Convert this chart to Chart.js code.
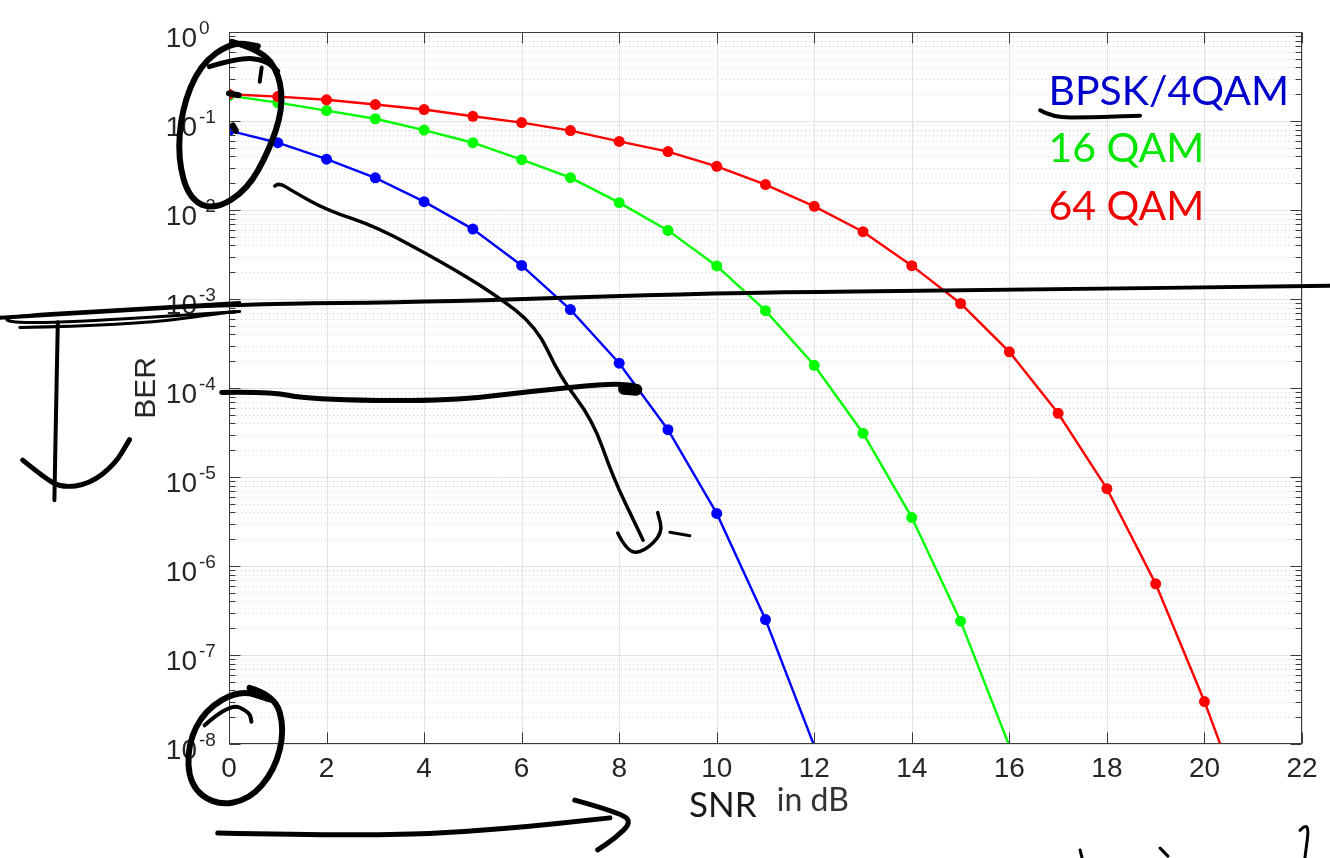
<!DOCTYPE html>
<html>
<head>
<meta charset="utf-8">
<script src="https://cdn.jsdelivr.net/npm/chart.js@4"></script>
<style>
  body { margin: 0; background: #fff; }
  #wrap { width: 1330px; height: 858px; }
</style>
</head>
<body>
<div id="wrap"><canvas id="berChart" width="1330" height="858"></canvas></div>
<script>
// SNR in dB for each marker
const snrDb = [0, 1, 2, 3, 4, 5, 6, 7, 8, 9, 10, 11, 12, 13, 14, 15, 16, 17, 18, 19, 20, 21];

// BER (last value of each curve sits just below 1e-8)
const berBpsk = [0.078, 0.057, 0.0372, 0.0230, 0.0124, 0.0061, 0.00238, 7.6e-4, 1.9e-4, 3.4e-5, 3.9e-6, 2.5e-7, 9.5e-9];
const ber16Qam = [0.193, 0.161, 0.131, 0.106, 0.079, 0.057, 0.0368, 0.0231, 0.0121, 0.0059, 0.00235, 7.4e-4, 1.8e-4, 3.1e-5, 3.5e-6, 2.4e-7, 9.5e-9];
const ber64Qam = [0.200, 0.188, 0.173, 0.153, 0.1345, 0.113, 0.096, 0.078, 0.059, 0.0453, 0.031, 0.0193, 0.011, 0.0057, 0.00237, 8.9e-4, 2.55e-4, 5.2e-5, 7.4e-6, 6.3e-7, 3.0e-8, 1.0e-9];

// axis ticks
const xTicks = [0, 2, 4, 6, 8, 10, 12, 14, 16, 18, 20, 22];
const yDecades = [0, -1, -2, -3, -4, -5, -6, -7, -8];

// text labels
const seriesNames = ['BPSK/4QAM', '16 QAM', '64 QAM'];
const yTitle = 'BER';
const xTitle = 'SNR';
const xUnit = 'in dB';

const Y_MIN = 1e-8, Y_MAX = 1;
const AXIS_FONT = '"Liberation Sans", Arial, sans-serif';
const NOTE_FONT = 'Lato, "Open Sans", sans-serif';

// hand-drawn ink on top of the figure, in [SNR dB, log10(BER)] units
const inkStrokes = [
  { w: 4, pts: [[-4.7, -3.21], [-2.65, -3.14], [0.01, -3.06], [4.53, -3.03], [9.86, -2.93], [15.8, -2.90], [22.57, -2.85]] },
  { w: 3, pts: [[0.22, -3.04], [-2.24, -3.12], [-4.5, -3.19], [-4.6, -3.26], [-3.47, -3.27], [0.22, -3.14]] },
  { w: 3, pts: [[-4.29, -3.32], [-2.03, -3.30], [0.12, -3.14]] },
  { w: 4, pts: [[-3.51, -3.26], [-3.55, -4.36], [-3.58, -5.26]] },
  { w: 5, pts: [[-4.23, -4.81], [-3.78, -5.01], [-3.43, -5.12], [-2.86, -5.08], [-2.34, -4.86], [-2.04, -4.58]] },
  { w: 5, pts: [[-0.15, -4.05], [0.83, -4.04], [1.65, -4.13], [4.42, -4.15], [6.17, -4.04], [7.81, -3.95], [8.26, -3.97]] },
  { w: 12, pts: [[8.1, -4.01], [8.35, -4.02]] },
  { w: 3.5, pts: [[0.94, -1.73], [1.02, -1.69], [1.31, -1.79], [2.0, -2.0], [3.03, -2.19], [4.38, -2.59], [5.41, -2.93], [6.31, -3.31], [6.78, -3.87], [7.46, -4.36], [7.87, -5.0], [8.36, -5.56], [8.49, -5.71]] },
  { w: 3.5, pts: [[7.97, -5.63], [8.16, -5.84], [8.49, -5.85], [8.9, -5.63], [8.79, -5.40]] },
  { w: 3, pts: [[9.04, -5.62], [9.45, -5.66]] },
  { w: 6, pts: [[0.06, -0.11], [0.67, -0.2], [1.04, -0.48], [1.10, -0.87], [0.83, -1.32], [0.38, -1.77], [-0.29, -2.0], [-0.81, -1.88], [-1.05, -1.43], [-0.97, -0.87], [-0.6, -0.37], [0.06, -0.11], [0.59, -0.16]] },
  { w: 5, pts: [[-0.4, -0.39], [0.22, -0.29], [0.73, -0.31], [1.0, -0.44]] },
  { w: 4, pts: [[0.67, -0.40], [0.63, -0.56]] },
  { w: 6, pts: [[0.0, -0.69], [0.2, -0.71]] },
  { w: 6, pts: [[0.08, -1.05], [0.14, -1.11]] },
  { w: 6, pts: [[0.42, -7.37], [0.94, -7.45], [1.14, -7.84], [0.94, -8.29], [0.42, -8.63], [-0.29, -8.69], [-0.81, -8.46], [-0.85, -8.01], [-0.5, -7.62], [0.22, -7.39], [0.83, -7.5]] },
  { w: 4, pts: [[-0.5, -7.79], [0.01, -7.54], [0.42, -7.64], [0.46, -7.75]] },
  { w: 5, pts: [[-0.23, -9.0], [3.01, -9.04], [5.55, -8.96], [7.81, -8.83]] },
  { w: 5, pts: [[7.09, -8.63], [8.01, -8.77], [8.26, -8.88], [7.91, -9.06], [7.56, -9.19]] },
  { w: 4, pts: [[16.63, -0.88], [16.87, -0.96], [17.65, -0.96], [18.68, -0.94]] },
  { w: 3, pts: [[17.45, -9.19], [17.49, -9.28]] },
  { w: 3, pts: [[19.09, -9.17], [19.25, -9.26]] },
  { w: 3, pts: [[21.96, -8.97], [22.16, -8.85], [22.06, -9.28]] }
];

function toPoints(values) {
  return values.map((v, i) => ({ x: snrDb[i], y: v }));
}

function makeSeries(label, values, color, order) {
  return {
    label: label,
    data: toPoints(values),
    borderColor: color,
    backgroundColor: color,
    borderWidth: 2.4,
    pointRadius: values.map(v => (v < Y_MIN ? 0 : 5.5)),
    pointBorderWidth: 0,
    pointHoverRadius: 0,
    tension: 0,
    order: order
  };
}

// light grid, inward ticks, box, y tick labels with exponents
const matlabAxes = {
  id: 'matlabAxes',
  beforeDatasetsDraw(chart) {
    const { ctx, chartArea: a, scales: { x, y } } = chart;
    ctx.save();
    ctx.lineWidth = 1;
    // minor horizontal grid (dotted)
    ctx.strokeStyle = '#cfcfcf';
    ctx.setLineDash([1, 3]);
    yDecades.forEach(e => {
      if (e === 0) return;
      for (let k = 2; k <= 9; k++) {
        const py = Math.round(y.getPixelForValue(k * Math.pow(10, e))) + 0.5;
        ctx.beginPath(); ctx.moveTo(a.left, py); ctx.lineTo(a.right, py); ctx.stroke();
      }
    });
    ctx.setLineDash([]);
    // major grid
    ctx.strokeStyle = '#e2e2e2';
    yDecades.forEach(e => {
      const py = Math.round(y.getPixelForValue(Math.pow(10, e))) + 0.5;
      ctx.beginPath(); ctx.moveTo(a.left, py); ctx.lineTo(a.right, py); ctx.stroke();
    });
    xTicks.forEach(t => {
      const px = Math.round(x.getPixelForValue(t)) + 0.5;
      ctx.beginPath(); ctx.moveTo(px, a.top); ctx.lineTo(px, a.bottom); ctx.stroke();
    });
    ctx.restore();
  },
  afterDatasetsDraw(chart) {
    const { ctx, chartArea: a, scales: { x, y } } = chart;
    ctx.save();
    ctx.strokeStyle = '#3a3a3a';
    ctx.lineWidth = 1;
    const L = Math.round(a.left) + 0.5, R = Math.round(a.right) - 0.5;
    const T = Math.round(a.top) + 0.5, B = Math.round(a.bottom) - 0.5;
    ctx.strokeRect(L, T, R - L, B - T);
    ctx.beginPath();
    xTicks.forEach(t => {
      const px = Math.round(x.getPixelForValue(t)) + 0.5;
      ctx.moveTo(px, B); ctx.lineTo(px, B - 11);
      ctx.moveTo(px, T); ctx.lineTo(px, T + 11);
    });
    yDecades.forEach(e => {
      const py = Math.round(y.getPixelForValue(Math.pow(10, e))) + 0.5;
      ctx.moveTo(L, py); ctx.lineTo(L + 11, py);
      ctx.moveTo(R, py); ctx.lineTo(R - 11, py);
      if (e === 0) return;
      for (let k = 2; k <= 9; k++) {
        const pm = Math.round(y.getPixelForValue(k * Math.pow(10, e))) + 0.5;
        ctx.moveTo(L, pm); ctx.lineTo(L + 6, pm);
        ctx.moveTo(R, pm); ctx.lineTo(R - 6, pm);
      }
    });
    ctx.stroke();

    // y tick labels 10^n
    ctx.fillStyle = '#262626';
    ctx.textBaseline = 'alphabetic';
    yDecades.forEach(e => {
      const py = y.getPixelForValue(Math.pow(10, e));
      ctx.font = '28px ' + AXIS_FONT;
      ctx.textAlign = 'right';
      ctx.fillText('10', a.left - 32, py + 15);
      ctx.font = '19px ' + AXIS_FONT;
      ctx.textAlign = 'left';
      ctx.fillText(String(e), a.left - 30, py + 2);
    });

    // axis titles
    ctx.font = '30px ' + AXIS_FONT;
    ctx.textAlign = 'center';
    ctx.save();
    ctx.translate(a.left - 74, (a.top + a.bottom) / 2);
    ctx.rotate(-Math.PI / 2);
    ctx.fillText(yTitle, 0, 0);
    ctx.restore();

    ctx.textAlign = 'left';
    ctx.fillStyle = '#1a1a1a';
    ctx.font = '35px ' + NOTE_FONT;
    ctx.fillText(xTitle, x.getPixelForValue(9.43), a.bottom + 73);
    ctx.fillStyle = '#333333';
    ctx.font = '32px ' + NOTE_FONT;
    ctx.fillText(xUnit, x.getPixelForValue(11.23), a.bottom + 67);

    // series names
    const nameColors = ['#0000cc', '#00e600', '#ee0000'];
    const nameBase = [-0.82, -1.46, -2.11];
    ctx.font = '41px ' + NOTE_FONT;
    seriesNames.forEach((n, i) => {
      ctx.fillStyle = nameColors[i];
      ctx.fillText(n, x.getPixelForValue(16.8), y.getPixelForValue(Math.pow(10, nameBase[i])));
    });
    ctx.restore();
  },
  afterDraw(chart) {
    const { ctx, scales: { x, y } } = chart;
    ctx.save();
    ctx.strokeStyle = '#000';
    ctx.lineCap = 'round';
    ctx.lineJoin = 'round';
    inkStrokes.forEach(s => {
      const p = s.pts.map(([sx, lb]) => [x.getPixelForValue(sx), y.getPixelForValue(Math.pow(10, lb))]);
      ctx.lineWidth = s.w;
      ctx.beginPath();
      ctx.moveTo(p[0][0], p[0][1]);
      for (let i = 1; i < p.length - 1; i++) {
        const mx = (p[i][0] + p[i + 1][0]) / 2, my = (p[i][1] + p[i + 1][1]) / 2;
        ctx.quadraticCurveTo(p[i][0], p[i][1], mx, my);
      }
      ctx.lineTo(p[p.length - 1][0], p[p.length - 1][1]);
      ctx.stroke();
    });
    ctx.restore();
  }
};

const ctx = document.getElementById('berChart').getContext('2d');
const berChart = new Chart(ctx, {
  type: 'line',
  data: {
    datasets: [
      makeSeries(seriesNames[0], berBpsk, '#0000ff', 2),
      makeSeries(seriesNames[1], ber16Qam, '#00ff00', 1),
      makeSeries(seriesNames[2], ber64Qam, '#ff0000', 0)
    ]
  },
  options: {
    responsive: false,
    animation: false,
    events: [],
    layout: { padding: { top: 32, right: 28, left: 0, bottom: 0 } },
    plugins: { legend: { display: false }, tooltip: { enabled: false } },
    scales: {
      x: {
        type: 'linear',
        min: 0,
        max: 22,
        afterBuildTicks: s => { s.ticks = xTicks.map(v => ({ value: v })); },
        ticks: {
          font: { family: AXIS_FONT, size: 28 },
          color: '#262626',
          padding: 8,
          maxRotation: 0,
          autoSkip: false
        },
        grid: { display: false, drawTicks: false },
        border: { display: false },
        afterFit: s => { s.height = 114; }
      },
      y: {
        type: 'logarithmic',
        min: Y_MIN,
        max: Y_MAX,
        ticks: { display: false },
        grid: { display: false, drawTicks: false },
        border: { display: false },
        afterFit: s => { s.width = 229; }
      }
    }
  },
  plugins: [matlabAxes]
});
</script>
</body>
</html>
